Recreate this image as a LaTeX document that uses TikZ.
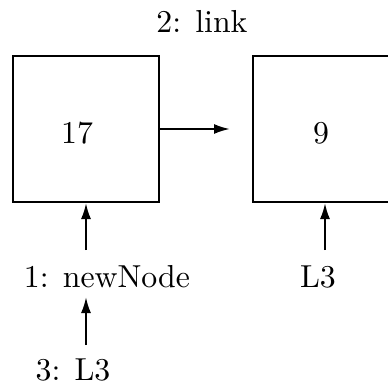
\documentclass[tikz,border=0pt]{standalone}
\usetikzlibrary{arrows.meta}
\begin{document}
\begin{tikzpicture}[x=1pt,y=-1pt,
  txt/.style={font=\fontsize{10}{12}\selectfont, inner sep=0pt, anchor=base, scale=3.18, transform shape},
  cell/.style={draw, line width=2pt, minimum width=146pt, minimum height=146pt, inner sep=0pt},
  ptr/.style={line width=2pt, -{Latex[length=16pt,width=10pt]}}]
  \useasboundingbox (0,0) rectangle (388,385);

  % list cells and their values
  \node[cell] (b1) at (86,129) {};
  \node[cell] (b2) at (326,129) {};
  \node[txt] (v1) at (77,143) {17};
  \node[txt] (v2) at (321,143) {9};

  % labels
  \node[txt] (link) at (202,33) {2: link};
  \node[txt] (nn) at (107,287) {1: newNode};
  \node[txt] (l3r) at (318,287) {L3};
  \node[txt] (l3b) at (73,380.5) {3: L3};

  % pointer tails
  \coordinate (linkend) at (230,129);
  \coordinate (nnstart) at (86,250);
  \coordinate (l3rstart) at (325,250);
  \coordinate (l3bstart) at (86,345);
  \coordinate (l3bend) at (86,297);

  \draw[ptr] (b1.east) -- (linkend);
  \draw[ptr] (nnstart) -- (b1.south);
  \draw[ptr] (l3rstart) -- (l3rstart |- b2.south);
  \draw[ptr] (l3bstart) -- (l3bend);
\end{tikzpicture}
\end{document}
